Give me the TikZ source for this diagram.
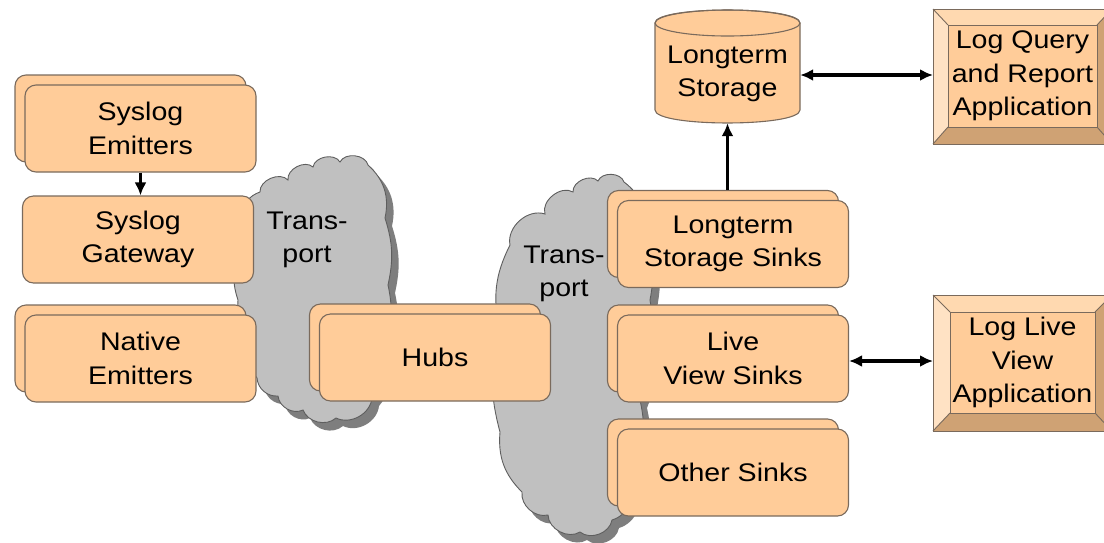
\documentclass[tikz,border=0pt]{standalone}
\usepackage{fontspec}
\setmainfont{Liberation Sans}[FakeStretch=1.12]
\usetikzlibrary{arrows.meta}

\definecolor{peach}{HTML}{FFCC99}
\definecolor{boxline}{HTML}{7A6A5C}
\definecolor{cloudfill}{HTML}{C0C0C0}
\definecolor{cloudline}{HTML}{5E5E5E}
\definecolor{cloudshade}{HTML}{7E7E7E}
\definecolor{bevlight}{HTML}{FFE2C4}
\definecolor{bevtop}{HTML}{FFD9B0}
\definecolor{bevdark}{HTML}{CFA274}

\newcommand\lbl{\fontsize{25.5}{33.5}\selectfont}

\tikzset{
  box/.style={draw=boxline, fill=peach, rounded corners=11pt, line width=1.1pt,
    minimum width=231pt, minimum height=87pt, inner sep=0pt, align=center, font=\lbl},
  cloudbody/.style={fill=cloudfill, draw=cloudline, line width=0.9pt},
  cloudshadow/.style={fill=cloudshade},
  link/.style={line width=3.4pt, -{Latex[length=13pt,width=12pt]}},
  duplex/.style={line width=3.4pt, {Latex[length=13pt,width=12pt]}-{Latex[length=13pt,width=12pt]}},
  bevface/.style={fill=peach, draw=boxline, line width=0.9pt},
  bevedge/.style={draw=boxline, line width=0.9pt},
}

\begin{document}
\begin{tikzpicture}[x=1pt, y=-1pt]
\useasboundingbox (0,0) rectangle (1104,542);
\clip (0,0) rectangle (1104,542);

% ---- transport clouds (drawn first, the boxes sit on top) ----
\def\cloudA{(238,300) to[bend left=25] (244,245) to[bend left=55] (260,192)
  to[bend left=70] (288,180) to[bend left=70] (313,167) to[bend left=70] (340,162)
  to[bend left=70] (368,165) to[bend left=30] (385,218) to[bend left=15] (388,285)
  to[bend left=15] (385,345) to[bend left=25] (372,398) to[bend left=55] (336,418)
  to[bend left=55] (303,410) to[bend left=55] (278,396) to[bend left=45] (257,378)
  to[bend left=20] (246,340) to[bend left=15] cycle}
\fill[cloudshadow, shift={(7,8)}] \cloudA;
\path[cloudbody] \cloudA;

\def\cloudB{(500,330) to[bend left=20] (510,245) to[bend left=60] (545,214)
  to[bend left=70] (573,192) to[bend left=70] (598,181) to[bend left=70] (624,182)
  to[bend left=30] (645,232) to[bend left=15] (650,300) to[bend left=15] (640,400)
  to[bend left=20] (630,478) to[bend left=50] (612,520) to[bend left=60] (580,532)
  to[bend left=60] (548,515) to[bend left=55] (522,492) to[bend left=25] (500,432)
  to[bend left=15] cycle}
\fill[cloudshadow, shift={(7,8)}] \cloudB;
\path[cloudbody] \cloudB;

\node[font=\lbl, align=center] (tr1) at (307,240) {Trans-\\port};
\node[font=\lbl, align=center] (tr2) at (564,274) {Trans-\\port};

% ---- emitter side ----
\node[box] (seB) at (130.5,118.5) {};
\node[box] (seF) at (140.5,128.5) {Syslog\\Emitters};
\node[box] (gw)  at (138,239.5) {Syslog\\Gateway};
\node[box] (neB) at (130.5,348.5) {};
\node[box] (neF) at (140.5,358.5) {Native\\Emitters};

% ---- hubs ----
\node[box] (hbB) at (425,347.5) {};
\node[box] (hbF) at (435,357.5) {Hubs};

% ---- sinks ----
\node[box] (ltB) at (723,234) {};
\node[box] (ltF) at (733,244) {Longterm\\Storage Sinks};
\node[box] (lvB) at (723,348.5) {};
\node[box] (lvF) at (733,358.5) {Live\\View Sinks};
\node[box] (otB) at (723,462.5) {};
\node[box] (otF) at (733,472.5) {Other Sinks};

% ---- longterm storage cylinder ----
\path[fill=peach, draw=boxline, line width=1.1pt]
  (655,23) -- (655,110) .. controls (655,127.3) and (800,127.3) .. (800,110)
  -- (800,23) .. controls (800,5.7) and (655,5.7) .. (655,23) -- cycle;
\draw[boxline, line width=1.1pt] (727.5,23) ellipse [x radius=72.5, y radius=13];
\node[inner sep=0pt, minimum width=145pt, minimum height=98pt, font=\lbl, align=center]
  (cyl) at (727.5,74) {Longterm\\Storage};

% ---- bevelled application boxes ----
% Log Query and Report Application
\fill[bevtop]   (933,9) -- (1112,9) -- (1097,25) -- (948,25) -- cycle;
\fill[bevlight] (933,9) -- (948,25) -- (948,127) -- (933,144) -- cycle;
\fill[bevdark]  (933,144) -- (948,127) -- (1097,127) -- (1112,144) -- cycle;
\fill[bevdark]  (1112,9) -- (1097,25) -- (1097,127) -- (1112,144) -- cycle;
\draw[bevedge] (933,9) -- (948,25) (933,144) -- (948,127) (1112,9) -- (1097,25) (1112,144) -- (1097,127);
\node[bevface, minimum width=149pt, minimum height=102pt, inner sep=0pt, font=\lbl, align=center]
  (lq) at (1022.5,76) {Log Query\\and Report\\Application};
\draw[bevedge] (933,9) rectangle (1112,144);
\coordinate (lqin) at (933,75);

% Log Live View Application
\fill[bevtop]   (933,295) -- (1112,295) -- (1095,312) -- (950,312) -- cycle;
\fill[bevlight] (933,295) -- (950,312) -- (950,413) -- (933,431) -- cycle;
\fill[bevdark]  (933,431) -- (950,413) -- (1095,413) -- (1112,431) -- cycle;
\fill[bevdark]  (1112,295) -- (1095,312) -- (1095,413) -- (1112,431) -- cycle;
\draw[bevedge] (933,295) -- (950,312) (933,431) -- (950,413) (1112,295) -- (1095,312) (1112,431) -- (1095,413);
\node[bevface, minimum width=145pt, minimum height=101pt, inner sep=0pt, font=\lbl, align=center]
  (lv) at (1022.5,362.5) {Log Live\\View\\Application};
\draw[bevedge] (933,295) rectangle (1112,431);
\coordinate (lvin) at (933,361);

% ---- connectors ----
\draw[link] (seF.south) -- (seF.south |- gw.north);
\draw[link] (ltB.north -| cyl.south) -- (cyl.south);
\draw[duplex] (cyl.east |- lqin) -- (lqin);
\draw[duplex] (lvF.east |- lvin) -- (lvin);
\end{tikzpicture}
\end{document}
